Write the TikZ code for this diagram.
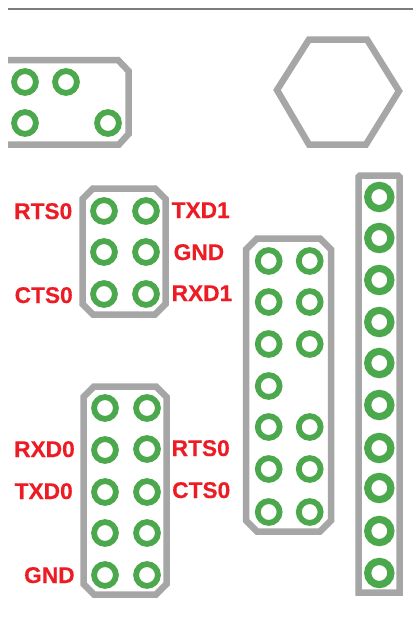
\documentclass[tikz,border=0pt]{standalone}
\usepackage{fontspec}
\setmainfont[BoldFeatures={FakeBold=0.4}]{Liberation Sans}
\definecolor{pcbgray}{RGB}{166,166,166}
\definecolor{pcbgreen}{RGB}{76,168,76}
\definecolor{pcbred}{RGB}{237,28,36}
\definecolor{topline}{RGB}{125,125,125}
\tikzset{
  outline/.style={draw=pcbgray,line width=6.5pt,miter limit=10,line join=miter},
  pad/.style={circle,draw=pcbgreen,fill=white,line width=5.8pt,inner sep=0pt,minimum size=21.8pt},
  bigpad/.style={circle,draw=pcbgreen,fill=white,line width=7.2pt,inner sep=0pt,minimum size=23.2pt},
  pinlabel/.style={text=pcbred,font=\fontsize{22.7}{25}\selectfont\bfseries,inner sep=0pt,anchor=base west},
}
\begin{document}
\begin{tikzpicture}[x=1pt,y=-1pt]
\useasboundingbox (0,0) rectangle (413,635);
\fill[white] (0,0) rectangle (413,635);
% top rule
\draw[topline,line width=1.3pt] (8,9) -- (413,9);
% outlines
\draw[outline] (8,60) -- (118,60) -- (128.5,71) -- (128.5,134) -- (119,144.5) -- (8,144.5);
\draw[outline] (277,90) -- (309,39.5) -- (367,39.5) -- (399,91) -- (366,144.5) -- (309,144.5) -- cycle;
\draw[outline] (93,188.5) -- (155,188.5) -- (165.5,199) -- (165.5,304) -- (155,314.5) -- (93,314.5) -- (82.5,304) -- (82.5,199) -- cycle;
\draw[outline] (94,386.5) -- (156,386.5) -- (166.5,397) -- (166.5,584) -- (156,594.5) -- (94,594.5) -- (83.5,584) -- (83.5,397) -- cycle;
\draw[outline] (257,238.5) -- (320,238.5) -- (331,249.5) -- (331,520.5) -- (320,531.5) -- (257,531.5) -- (246,520.5) -- (246,249.5) -- cycle;
\draw[outline] (360,175.5) -- (398,175.5) -- (399.5,177) -- (399.5,592.5) -- (358.5,592.5) -- (358.5,177) -- cycle;
% top-left connector pads
\node[pad] (a1) at (25,82) {};
\node[pad] (a2) at (66,82) {};
\node[pad] (a3) at (25,123) {};
\node[pad] (a4) at (108,123) {};
% header 2x3
\foreach \n/\x/\y in {1/104/211,2/146/211,3/104/252,4/146/252,5/104/294,6/146/294}
  \node[pad] (b\n) at (\x,\y) {};
% header 2x5
\foreach \n/\x/\y in {1/105/408,2/147/408,3/105/450,4/147/449,5/105/492,6/147/492,7/105/533,8/147/533,9/105/575,10/147/575}
  \node[pad] (c\n) at (\x,\y) {};
% header 2x7 with a missing pin
\foreach \n/\x/\y in {1/268.7/261,2/309.7/261,3/268.7/302,4/309.7/302,5/268.7/344,6/309.7/344,7/268.7/386,9/268.7/427,10/309.7/427,11/268.7/469,12/309.7/469,13/268.7/512,14/309.7/512}
  \node[pad] (d\n) at (\x,\y) {};
% single row
\foreach \n/\y in {1/197,2/238,3/280,4/322,5/363,6/405,7/448,8/488,9/531,10/573}
  \node[bigpad] (e\n) at (379.3,\y) {};
% labels
\node[pinlabel] (l1) at (14,219) {RTS0};
\node[pinlabel] (l2) at (171.5,218) {TXD1};
\node[pinlabel] (l3) at (173.5,260) {GND};
\node[pinlabel] (l4) at (14.5,303) {CTS0};
\node[pinlabel] (l5) at (171.5,301) {RXD1};
\node[pinlabel] (l6) at (14,457) {RXD0};
\node[pinlabel] (l7) at (171.5,456) {RTS0};
\node[pinlabel] (l8) at (14.5,499) {TXD0};
\node[pinlabel] (l9) at (172,498) {CTS0};
\node[pinlabel] (l10) at (24,583) {GND};
\end{tikzpicture}
\end{document}
